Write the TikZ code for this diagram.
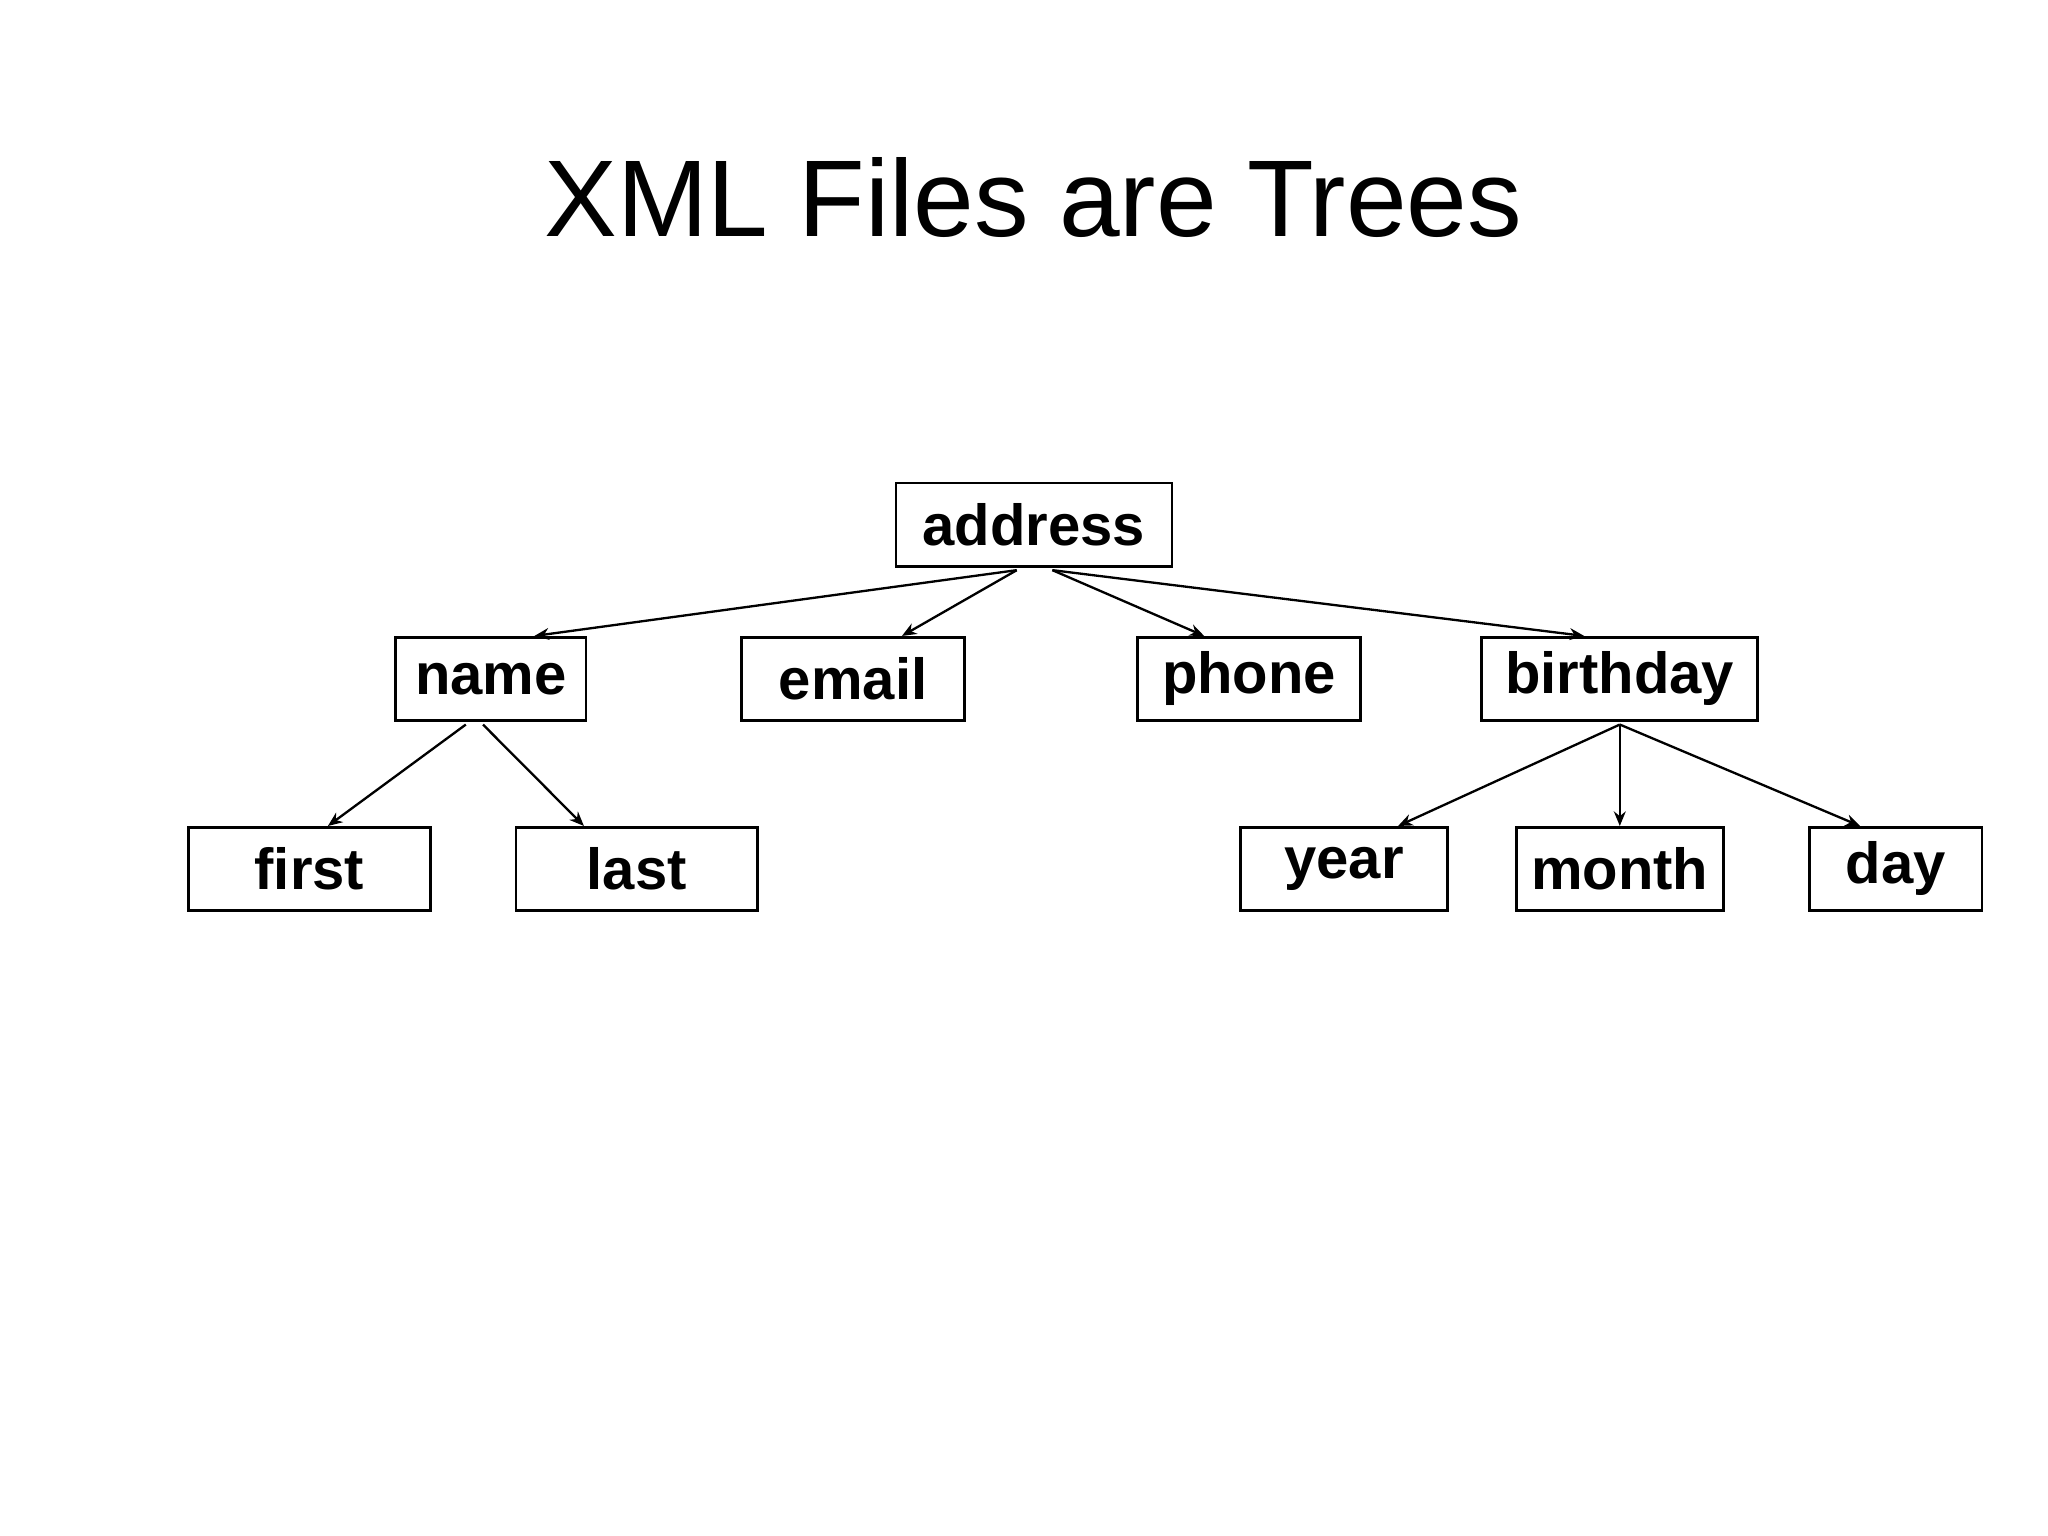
\documentclass[tikz,border=0pt]{standalone}
\usepackage{fontspec}
\setmainfont{Liberation Sans}
\usetikzlibrary{arrows.meta,calc}
\begin{document}
\begin{tikzpicture}[x=0.01cm,y=-0.01cm,
  box/.style={draw,line width=0.6pt,inner sep=0pt,minimum height=0.63cm,font=\fontsize{12.5}{14}\selectfont\bfseries},
  arr/.style={line width=0.5pt,-{Stealth[length=0.11cm,width=0.09cm]}}]
\useasboundingbox (0,0) rectangle (1552,1164);
\node[font=\fontsize{23.5}{28}\selectfont] (title) at (783,150) {XML Files are Trees};
\node[box,minimum width=2.09cm] (address) at (783.5,397.5) {address};
\node[box,minimum width=1.44cm] (name) at (372,514.5) {name};
\node[box,minimum width=1.69cm] (email) at (646.5,514.5) {email};
\node[box,minimum width=1.69cm] (phone) at (946.5,514.5) {phone};
\node[box,minimum width=2.09cm] (birthday) at (1227.5,514.5) {birthday};
\node[box,minimum width=1.83cm] (first) at (234.5,658.5) {first};
\node[box,minimum width=1.83cm] (last) at (482.5,658.5) {last};
\node[box,minimum width=1.57cm] (year) at (1018.5,658.5) {year};
\node[box,minimum width=1.57cm] (month) at (1227.5,658.5) {month};
\node[box,minimum width=1.31cm] (day) at (1436.5,658.5) {day};
\draw[arr] ($(address.south)+(-13,2)$) -- ($(name.north)+(33,0)$);
\draw[arr] ($(address.south)+(-13,2)$) -- ($(email.north)+(37,0)$);
\draw[arr] ($(address.south)+(14,2)$) -- ($(phone.north)+(-34,0)$);
\draw[arr] ($(address.south)+(14,2)$) -- ($(birthday.north)+(-27,0)$);
\draw[arr] ($(name.south)+(-19,2)$) -- ($(first.north)+(14,0)$);
\draw[arr] ($(name.south)+(-6,2)$) -- ($(last.north)+(-40,0)$);
\draw[arr] ($(birthday.south)+(0,2)$) -- ($(year.north)+(41,0)$);
\draw[arr] ($(birthday.south)+(0,2)$) -- (month.north);
\draw[arr] ($(birthday.south)+(0,2)$) -- ($(day.north)+(-27,0)$);
\end{tikzpicture}
\end{document}
